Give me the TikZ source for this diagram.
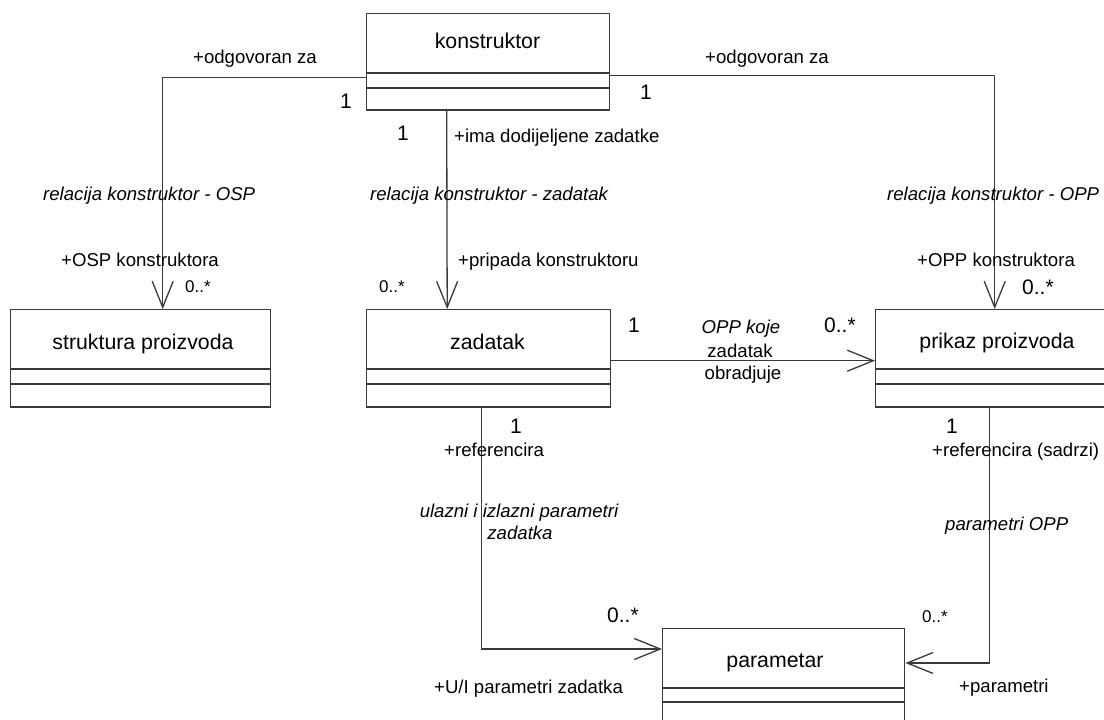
\documentclass[tikz,border=0pt]{standalone}
\usepackage{fontspec}
\setmainfont{Liberation Sans}
\usetikzlibrary{arrows.meta}
\definecolor{ln}{HTML}{3A3A3A}
\tikzset{
  cls/.style={draw=ln, line width=1.4pt, fill=white, rectangle, inner sep=0pt, anchor=north west},
  sep/.style={draw=ln, line width=1.4pt},
  bot/.style={draw=ln, line width=2.6pt},
  assoc/.style={draw=ln, line width=1.3pt, -{Straight Barb[length=26pt,width=21pt,line width=1.3pt]}},
  cname/.style={font=\fontsize{21.3}{24}\selectfont, inner sep=0pt, anchor=base},
  lbl/.style={font=\fontsize{18.6}{21}\selectfont, inner sep=0pt, anchor=base west},
  ilbl/.style={font=\fontsize{18.6}{21}\selectfont\itshape, inner sep=0pt, anchor=base west},
  ilblc/.style={font=\fontsize{18.6}{21}\selectfont\itshape, inner sep=0pt, anchor=base},
  lblc/.style={font=\fontsize{18.6}{21}\selectfont, inner sep=0pt, anchor=base},
  mbig/.style={font=\fontsize{21}{24}\selectfont, inner sep=0pt, anchor=base west},
  msml/.style={font=\fontsize{17}{20}\selectfont, inner sep=0pt, anchor=base west},
}
\begin{document}
\begin{tikzpicture}[x=1pt,y=-1pt]
\useasboundingbox (0,0) rectangle (1104,720);
\clip (0,0) rectangle (1104,720);
\fill[white] (0,0) rectangle (1104,720);

% classes
\node[cls, minimum width=243pt, minimum height=96pt] (k) at (366,13) {};
\node[cls, minimum width=260pt, minimum height=97pt] (s) at (10,309) {};
\node[cls, minimum width=244pt, minimum height=97pt] (z) at (366,309) {};
\node[cls, minimum width=245pt, minimum height=97pt] (p) at (875,309) {};
\node[cls, minimum width=242pt, minimum height=130pt] (pm) at (662,628) {};

\foreach \n/\a/\b in {k/60/75, s/60/75, z/60/75, p/60/75, pm/60/74}{
  \draw[sep] ([yshift=-\a pt]\n.north west) -- ([yshift=-\a pt]\n.north east);
  \draw[sep] ([yshift=-\b pt]\n.north west) -- ([yshift=-\b pt]\n.north east);
}
\foreach \n in {k,s,z,p}{
  \draw[bot] ([yshift=0.6pt]\n.south west) -- ([yshift=0.6pt]\n.south east);
}

\node[cname] (kt) at (487.5,48) {konstruktor};
\node[cname] (st) at (143,349) {struktura proizvoda};
\node[cname] (zt) at (487.5,349) {zadatak};
\node[cname] (pt) at (997,348) {prikaz proizvoda};
\node[cname] (pmt) at (775,667) {parametar};

% connectors
\draw[assoc] ([yshift=-16pt]k.west) -| ([xshift=22pt]s.north);
\draw[assoc] ([yshift=-14pt]k.east) -| ([xshift=-3.5pt]p.north);
\draw[assoc] ([xshift=-41.5pt]k.south) -- ([xshift=-41.5pt]z.north);
\draw[assoc] ([yshift=-2.5pt]z.east) -- ([yshift=-2.5pt]p.west);
\draw[assoc] ([xshift=-7.5pt]z.south) |- ([yshift=-21pt]pm.north west);
\draw[assoc] ([xshift=-8.5pt]p.south) |- ([yshift=-35pt]pm.north east);

% labels: konstruktor - struktura
\node[lbl] (l1) at (193,63) {+odgovoran za};
\node[mbig] (m1) at (340,108) {1};
\node[ilbl] (l2) at (43,200) {relacija konstruktor - OSP};
\node[lbl] (l3) at (61,266) {+OSP konstruktora};
\node[msml] (m2) at (185,292) {0..*};

% konstruktor - zadatak
\node[mbig] (m3) at (397,140) {1};
\node[lbl] (l4) at (454,142) {+ima dodijeljene zadatke};
\node[ilbl] (l5) at (370,200) {relacija konstruktor - zadatak};
\node[lbl] (l6) at (458,266) {+pripada konstruktoru};
\node[msml] (m4) at (379,292) {0..*};

% konstruktor - prikaz
\node[lbl] (l7) at (705,63) {+odgovoran za};
\node[mbig] (m5) at (640,99) {1};
\node[ilbl] (l8) at (887,200) {relacija konstruktor - OPP};
\node[lbl] (l9) at (917,266) {+OPP konstruktora};
\node[mbig] (m6) at (1022,294) {0..*};

% zadatak - prikaz
\node[mbig] (m7) at (628,332) {1};
\node[ilblc] (l10) at (741,333) {OPP koje};
\node[lblc] (l11) at (740,357) {zadatak};
\node[lblc] (l12) at (743,379) {obradjuje};
\node[mbig] (m8) at (824,332) {0..*};

% zadatak - parametar
\node[mbig] (m9) at (510,433) {1};
\node[lbl] (l13) at (444,456) {+referencira};
\node[ilblc] (l14) at (519,517) {ulazni i izlazni parametri};
\node[ilblc] (l15) at (520,539) {zadatka};
\node[mbig] (m10) at (607,622) {0..*};
\node[lbl] (l16) at (434,693) {+U/I parametri zadatka};

% prikaz - parametar
\node[mbig] (m11) at (946,433) {1};
\node[lbl] (l17) at (932,456) {+referencira (sadrzi)};
\node[ilbl] (l18) at (945,530) {parametri OPP};
\node[msml] (m12) at (922,622) {0..*};
\node[lbl] (l19) at (959,692) {+parametri};
\end{tikzpicture}
\end{document}
